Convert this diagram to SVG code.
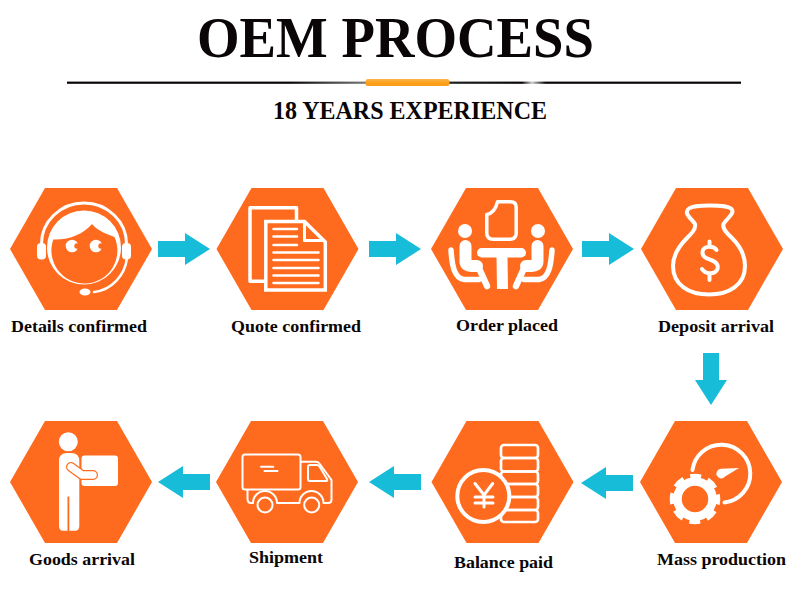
<svg xmlns="http://www.w3.org/2000/svg" width="800" height="609" viewBox="0 0 800 609">
<style>
.hex{fill:#ff6b1e}
.arw{fill:#17bcd9}
.lb{font-family:"Liberation Serif","Times New Roman",serif;font-weight:700;font-size:17px;fill:#0a0506}
.s{fill:none;stroke:#fff;stroke-linecap:round;stroke-linejoin:round}
.w{fill:#fff}
.o{fill:#ff6b1e}
</style>
<defs>
<polygon id="h" class="hex" points="-71,0 -36,-61 36,-61 71,0 36,61 -36,61"/>
<polygon id="a" class="arw" points="0,-8 27,-8 27,-16 52,0 27,16 27,8 0,8"/>
<linearGradient id="pill" x1="0" y1="0" x2="0" y2="1"><stop offset="0" stop-color="#fdb64a"/><stop offset="0.5" stop-color="#fca21f"/><stop offset="1" stop-color="#f79a14"/></linearGradient>
<linearGradient id="rule" gradientUnits="userSpaceOnUse" x1="67" y1="0" x2="741" y2="0">
<stop offset="0.33" stop-color="#0a0506"/><stop offset="0.44" stop-color="#777"/><stop offset="0.56" stop-color="#222"/><stop offset="0.675" stop-color="#0a0506"/><stop offset="0.69" stop-color="#ccc"/><stop offset="0.71" stop-color="#0a0506"/>
</linearGradient>
</defs>
<rect width="800" height="609" fill="#fff"/>
<g id="header">
<text x="197" y="57" textLength="397" lengthAdjust="spacingAndGlyphs" style="font-family:'Liberation Serif','Times New Roman',serif;font-weight:700;font-size:56px" fill="#0a0506">OEM PROCESS</text>
<rect x="67" y="81.6" width="674" height="2.2" fill="url(#rule)"/>
<rect x="365.500" y="79" width="84" height="7" rx="2.500" fill="url(#pill)"/>
<text x="273" y="119" textLength="274" lengthAdjust="spacingAndGlyphs" style="font-family:'Liberation Serif','Times New Roman',serif;font-weight:700;font-size:25.500px" fill="#0a0506">18 YEARS EXPERIENCE</text>
</g>
<g id="connectors">
<use href="#a" transform="translate(158,249)"/>
<use href="#a" transform="translate(369,249)"/>
<use href="#a" transform="translate(582,249)"/>
<use href="#a" transform="translate(711,353) rotate(90)"/>
<use href="#a" transform="translate(633,483) rotate(180)"/>
<use href="#a" transform="translate(421,482) rotate(180)"/>
<use href="#a" transform="translate(210,482) rotate(180)"/>
</g>
<g id="node-details">
<use href="#h" x="81" y="249"/>
<path class="s" stroke-width="3" d="M41.500,244 A42.500,41 0 0 1 126.500,244"/>
<rect class="w" x="37" y="243" width="9" height="16.500" rx="4"/>
<rect class="w" x="122" y="243" width="9" height="16.500" rx="4"/>
<path class="s" stroke-width="2.500" d="M127,258 C125,275 112,290 94,292"/>
<ellipse class="w" cx="85" cy="292" rx="5.500" ry="3.500"/>
<circle class="w" cx="84" cy="247.500" r="37"/>
<path class="o" d="M53.300,239.500 C70,240 83,234 92,224 C97,230 106,234 114.500,237 A33,33 0 1 1 53.300,239.500Z"/>
<circle class="w" cx="72" cy="246" r="6.300"/><circle class="o" cx="77" cy="246" r="2.700"/>
<circle class="w" cx="96" cy="246" r="6.300"/><circle class="o" cx="101" cy="246" r="2.700"/>
<text class="lb" x="11" y="332" textLength="136" lengthAdjust="spacingAndGlyphs">Details confirmed</text>
</g>
<g id="node-quote">
<use href="#h" x="287.500" y="249"/>
<path class="s" stroke-width="3.500" stroke-linecap="butt" d="M250,207.800 H296.500 V225 M250,207.800 V281.300 H266"/>
<path class="o" stroke="#fff" stroke-width="3.500" stroke-linejoin="miter" d="M265.800,221.500 H304.500 L325.300,242 V290 H265.800Z"/>
<path class="s" stroke-width="3" d="M304.500,222 V240.500 H324"/>
<path class="s" stroke-width="2.500" d="M273.500,229 H297 M273.500,236.500 H297 M273.500,245 H297 M273.500,252.500 H318.500 M273.500,260 H318.500 M273.500,268 H318.500 M273.500,275.500 H318.500 M273.500,283 H318.500"/>
<text class="lb" x="231" y="332" textLength="130" lengthAdjust="spacingAndGlyphs">Quote confirmed</text>
</g>
<g id="node-order">
<use href="#h" x="502" y="249"/>
<path class="s" stroke-width="3.500" d="M497.500,201.800 H510.500 Q516.200,201.800 516.200,207.500 V233 Q516.200,239.200 510,239.200 H493 Q486.800,239.200 486.800,233 V214.500 Q495,212.500 497.500,201.800Z"/>
<rect class="w" x="477" y="248" width="49" height="9.500" rx="4.700"/>
<path class="w" d="M496.500,257 H507.500 L508,289 H497Z"/>
<g id="person-l">
<circle class="w" cx="465" cy="231" r="7"/>
<path class="s" stroke-width="12" d="M465.500,246 V262 Q466,266 471,266 H477"/>
<path class="s" stroke-width="6.500" d="M478,266 L487,286"/>
<path class="s" stroke-width="5.500" d="M451,250 C452,265 454,278 464,279.500 H479"/>
</g>
<use href="#person-l" transform="matrix(-1 0 0 1 1003 0)"/>
<text class="lb" x="456" y="331" textLength="102" lengthAdjust="spacingAndGlyphs">Order placed</text>
</g>
<g id="node-deposit">
<use href="#h" x="712" y="249"/>
<path class="s" stroke-width="4" d="M695,224 C691,218 683,213 689,208.500 C694,204.500 726,204.500 731,208.500 C736,213 727,218 723.500,224 C722,229 727,233 732,238 C741,247 745,256 745,266 C745,285 729,294.500 709,294.500 C689,294.500 673,285 673,266 C673,256 678,247 687,238 C692,233 696,229 695,224Z"/>
<path class="s" stroke-width="4" d="M716.500,250 C714,246 703,245 702.500,252 C702,258.500 709,259 711,260 C717,262 719,266 717,270 C714,275 705,274 702,269 M709.500,241.500 V245.500 M709.500,275 V280"/>
<text class="lb" x="658" y="332" textLength="116" lengthAdjust="spacingAndGlyphs">Deposit arrival</text>
</g>
<g id="node-mass">
<use href="#h" x="711" y="482"/>
<path class="s" stroke-width="4" stroke-linecap="butt" d="M692.500,470 A29,29 0 1 1 724.500,502.500"/>
<path class="w" d="M721,468.800 L739,468 L725,476.500 A4.800,4.800 0 1 1 721,468.800Z"/>
<circle cx="695" cy="499" r="17.500" fill="none" stroke="#fff" stroke-width="8.500"/>
<circle cx="695" cy="499" r="23" fill="none" stroke="#fff" stroke-width="4.500" stroke-dasharray="11 7.060" stroke-dashoffset="5.500"/>
<text class="lb" x="657" y="565" textLength="129" lengthAdjust="spacingAndGlyphs">Mass production</text>
</g>
<g id="node-balance">
<use href="#h" x="502.500" y="482"/>
<g fill="none" stroke="#fff" stroke-width="2.700">
<rect x="501" y="445" width="37" height="13" rx="3"/>
<rect x="501" y="458" width="37" height="13.500" rx="3"/>
<rect x="501" y="471.500" width="37" height="12.500" rx="3"/>
<rect x="501" y="484" width="37" height="13" rx="3"/>
<rect x="501" y="497" width="37" height="13" rx="3"/>
<rect x="501" y="510" width="37" height="12" rx="3"/>
</g>
<circle class="o" stroke="#fff" stroke-width="4" cx="483.300" cy="496" r="26"/>
<path class="s" stroke-width="3" stroke-linecap="butt" stroke-linejoin="miter" d="M475,483.500 L484,495 L492.700,483.500 M484,495 V507 M475,497 H493 M475,503 H493"/>
<text class="lb" x="454" y="568" textLength="99" lengthAdjust="spacingAndGlyphs">Balance paid</text>
</g>
<g id="node-shipment">
<use href="#h" x="287" y="482"/>
<rect x="242.500" y="454.500" width="58" height="35" rx="2.500" fill="none" stroke="#fff" stroke-width="2"/>
<path class="s" stroke-width="2" d="M261,466.700 H273.300 M264.500,471 H277.500"/>
<path class="s" stroke-width="2" d="M247.500,490 V499 Q247.500,503 251,503 H253 A12,12 0 0 1 277,503 H299.500 A12,12 0 0 1 323.500,503 H328 Q331.500,503 331.500,499.500 V480 L319,463 Q318,461.700 316,461.700 H301"/>
<circle cx="265" cy="505" r="7.500" fill="none" stroke="#fff" stroke-width="2"/>
<circle cx="311.700" cy="505" r="7.500" fill="none" stroke="#fff" stroke-width="2"/>
<path class="s" stroke-width="2" d="M308,466.500 Q308,465 310,465 H317 Q318.500,465 319.500,466.500 L327,479 Q328,481 326,481 H310 Q308,481 308,479Z"/>
<text class="lb" x="249" y="563" textLength="74" lengthAdjust="spacingAndGlyphs">Shipment</text>
</g>
<g id="node-goods">
<use href="#h" x="81" y="482"/>
<circle class="w" cx="68.300" cy="441.700" r="9.500"/>
<rect class="w" x="81.500" y="455.500" width="36.500" height="30.500" rx="3"/>
<path class="w" d="M59,461 Q59,453 67,453 H71 Q79.300,453 79.300,461 V526 Q79.300,530.800 75,530.800 H63 Q59,530.800 59,526Z"/>
<rect class="o" x="67.500" y="496.500" width="1.800" height="35"/>
<path d="M71,467 L82,475 H93" fill="none" stroke="#ff6b1e" stroke-width="10" stroke-linejoin="round" stroke-linecap="round"/>
<path class="s" stroke-width="7.500" d="M71,467 L82,475 H93"/>
<text class="lb" x="29" y="565" textLength="106" lengthAdjust="spacingAndGlyphs">Goods arrival</text>
</g>
</svg>
